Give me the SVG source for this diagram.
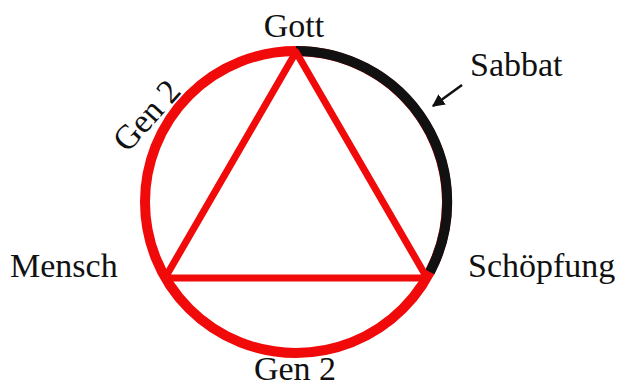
<svg xmlns="http://www.w3.org/2000/svg" width="620" height="388" viewBox="0 0 620 388">
<style>
.lbl{font-family:"Liberation Serif","DejaVu Serif",serif;font-size:34px;fill:#111}
.red{fill:none;stroke:#f00a0a;stroke-linejoin:round}
</style>
<defs>
<marker id="ah" viewBox="0 0 10 10" refX="9" refY="5" markerWidth="5" markerHeight="5" orient="auto" markerUnits="strokeWidth">
<path d="M0,0 L10,5 L0,10 z" fill="#111"/>
</marker>
</defs>
<rect width="620" height="388" fill="#fff"/>
<g id="circle">
<circle class="red" cx="296" cy="202" r="151" stroke-width="10"/>
<path d="M296,51 A151,151 0 0 1 430,272" fill="none" stroke="#111" stroke-width="10"/>
</g>
<g id="triangle">
<polygon class="red" points="296,52 165,278 427,278" stroke-width="7"/>
</g>
<g id="gott"><text class="lbl" x="294" y="37" text-anchor="middle">Gott</text></g>
<g id="sabbat"><text class="lbl" x="470" y="76">Sabbat</text></g>
<g id="mensch"><text class="lbl" x="10" y="277">Mensch</text></g>
<g id="schoepfung"><text class="lbl" x="468" y="277">Schöpfung</text></g>
<g id="gen2-bottom"><text class="lbl" x="295" y="380" text-anchor="middle">Gen 2</text></g>
<g id="gen2-side"><text class="lbl" transform="translate(155,123) rotate(-48)" x="0" y="0" text-anchor="middle">Gen 2</text></g>
<g id="connectors">
<line x1="462" y1="85" x2="433" y2="106" stroke="#111" stroke-width="2.5" marker-end="url(#ah)"/>
</g>
</svg>
